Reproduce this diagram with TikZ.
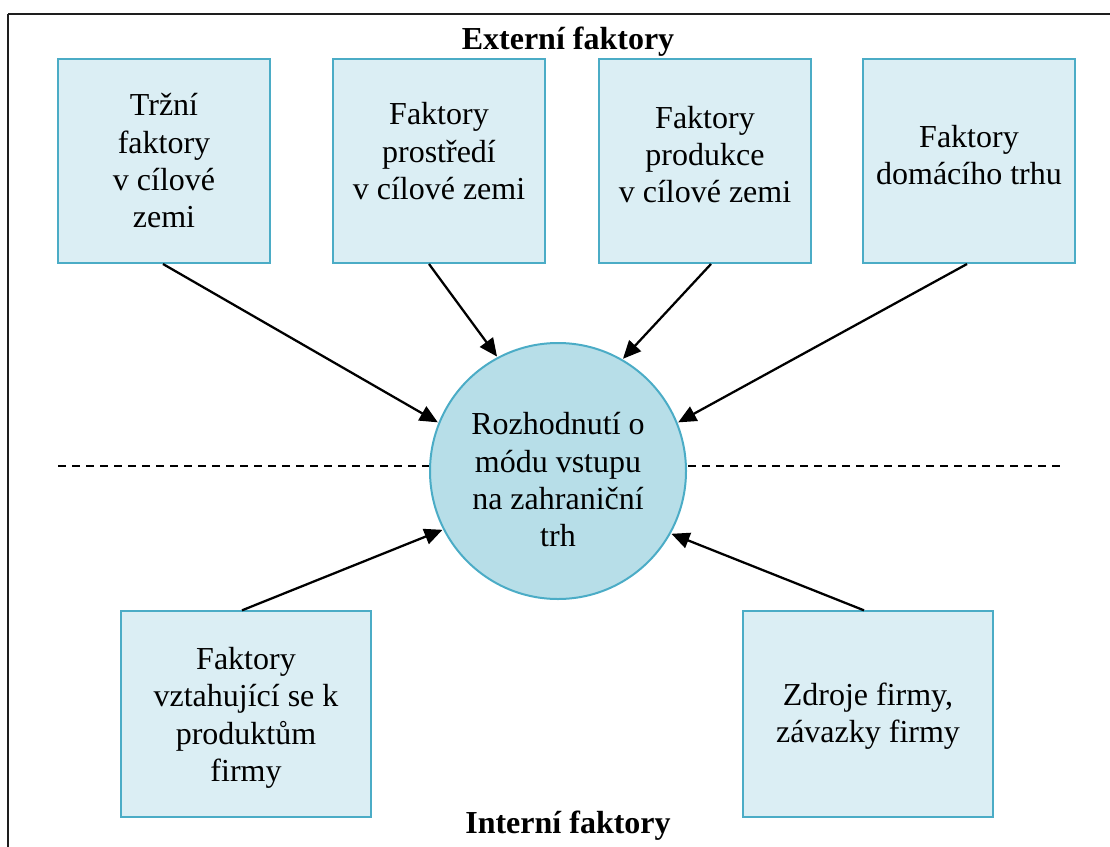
\documentclass[tikz,border=0pt]{standalone}
\usepackage{fontspec}
\setmainfont{Liberation Serif}
\usepackage{tikz}
\usetikzlibrary{arrows.meta}

\definecolor{boxfill}{RGB}{219,238,244}
\definecolor{boxline}{RGB}{75,172,198}
\definecolor{circfill}{RGB}{183,222,232}

\tikzset{
  factorbox/.style={draw=boxline, fill=boxfill, line width=1.5pt, align=center,
    inner sep=0.75pt, font=\fontsize{24}{28}\selectfont},
  topbox/.style={factorbox, minimum width=159pt, minimum height=153pt},
  lowbox/.style={factorbox, minimum width=188pt, minimum height=154pt},
  decision/.style={circle, draw=boxline, fill=circfill, line width=1.5pt, align=center,
    minimum size=192pt, inner sep=0pt, font=\fontsize{24}{28}\selectfont},
  headline/.style={inner sep=0.75pt, font=\fontsize{24}{28}\selectfont\bfseries},
  influence/.style={-{Triangle[length=13.5pt,width=12pt]}, line width=1.7pt, shorten >=0.5pt},
  divider/.style={line width=1pt, dash pattern=on 6pt off 4.5pt}
}

\begin{document}
\begin{tikzpicture}[x=0.75pt,y=0.75pt,yscale=-1,xscale=1]
        \useasboundingbox (0,0) rectangle (1110,846);
        \clip (0,0) rectangle (1110,846);

        %Shape: Frame
        \draw [line width=1.5pt, color={rgb, 255:red, 30; green, 30; blue, 30 }] (8,14) -- (1120,14) (8,14) -- (8,860) ;

        % Text Node
        \node [headline] (ext) at (568,42) {Externí faktory};
        % Text Node
        \node [headline] (int) at (568,826) {Interní faktory};

        %Dashed divider
        \coordinate (dashL) at (58,466);
        \coordinate (dashR) at (1060,466);
        \draw [divider] (dashL) -- (dashR) ;

        %Shape: Boxes
        \node [topbox] (trzni) at (164,161) {Tržní\\faktory\\v cílové\\zemi};
        \node [topbox] (prostredi) at (439,161) {Faktory\\prostředí\\v cílové zemi\rule[-15pt]{0pt}{1pt}};
        \node [topbox] (produkce) at (705,161) {Faktory\\produkce\\v cílové zemi\rule[-10pt]{0pt}{1pt}};
        \node [topbox] (domaci) at (969,161) {Faktory\\domácího trhu\rule[-9pt]{0pt}{1pt}};

        %Shape: Circle
        \node [decision] (rozhodnuti) at (558,471) {\rule{0pt}{30pt}Rozhodnutí o\\módu vstupu\\na zahraniční\\trh};

        %Shape: Boxes
        \node [lowbox] (produkty) at (246,714) {\rule{0pt}{22.5pt}Faktory\\vztahující se k\\produktům\\firmy};
        \node [lowbox] (zdroje) at (868,714) {\rule{0pt}{20.5pt}Zdroje firmy,\\závazky firmy};

        %Straight Lines
        \draw [influence] ([xshift=-0.75pt]trzni.south) -- (rozhodnuti.158) ;
        \draw [influence] ([xshift=-7.5pt]prostredi.south) -- (rozhodnuti.118.6) ;
        \draw [influence] ([xshift=4.5pt]produkce.south) -- (rozhodnuti.60.3) ;
        \draw [influence] ([xshift=-1.5pt]domaci.south) -- (rozhodnuti.22.8) ;
        \draw [influence] ([xshift=-3pt]produkty.north) -- (rozhodnuti.207.9) ;
        \draw [influence] ([xshift=-3pt]zdroje.north) -- (rozhodnuti.331.4) ;

    \end{tikzpicture}
\end{document}
